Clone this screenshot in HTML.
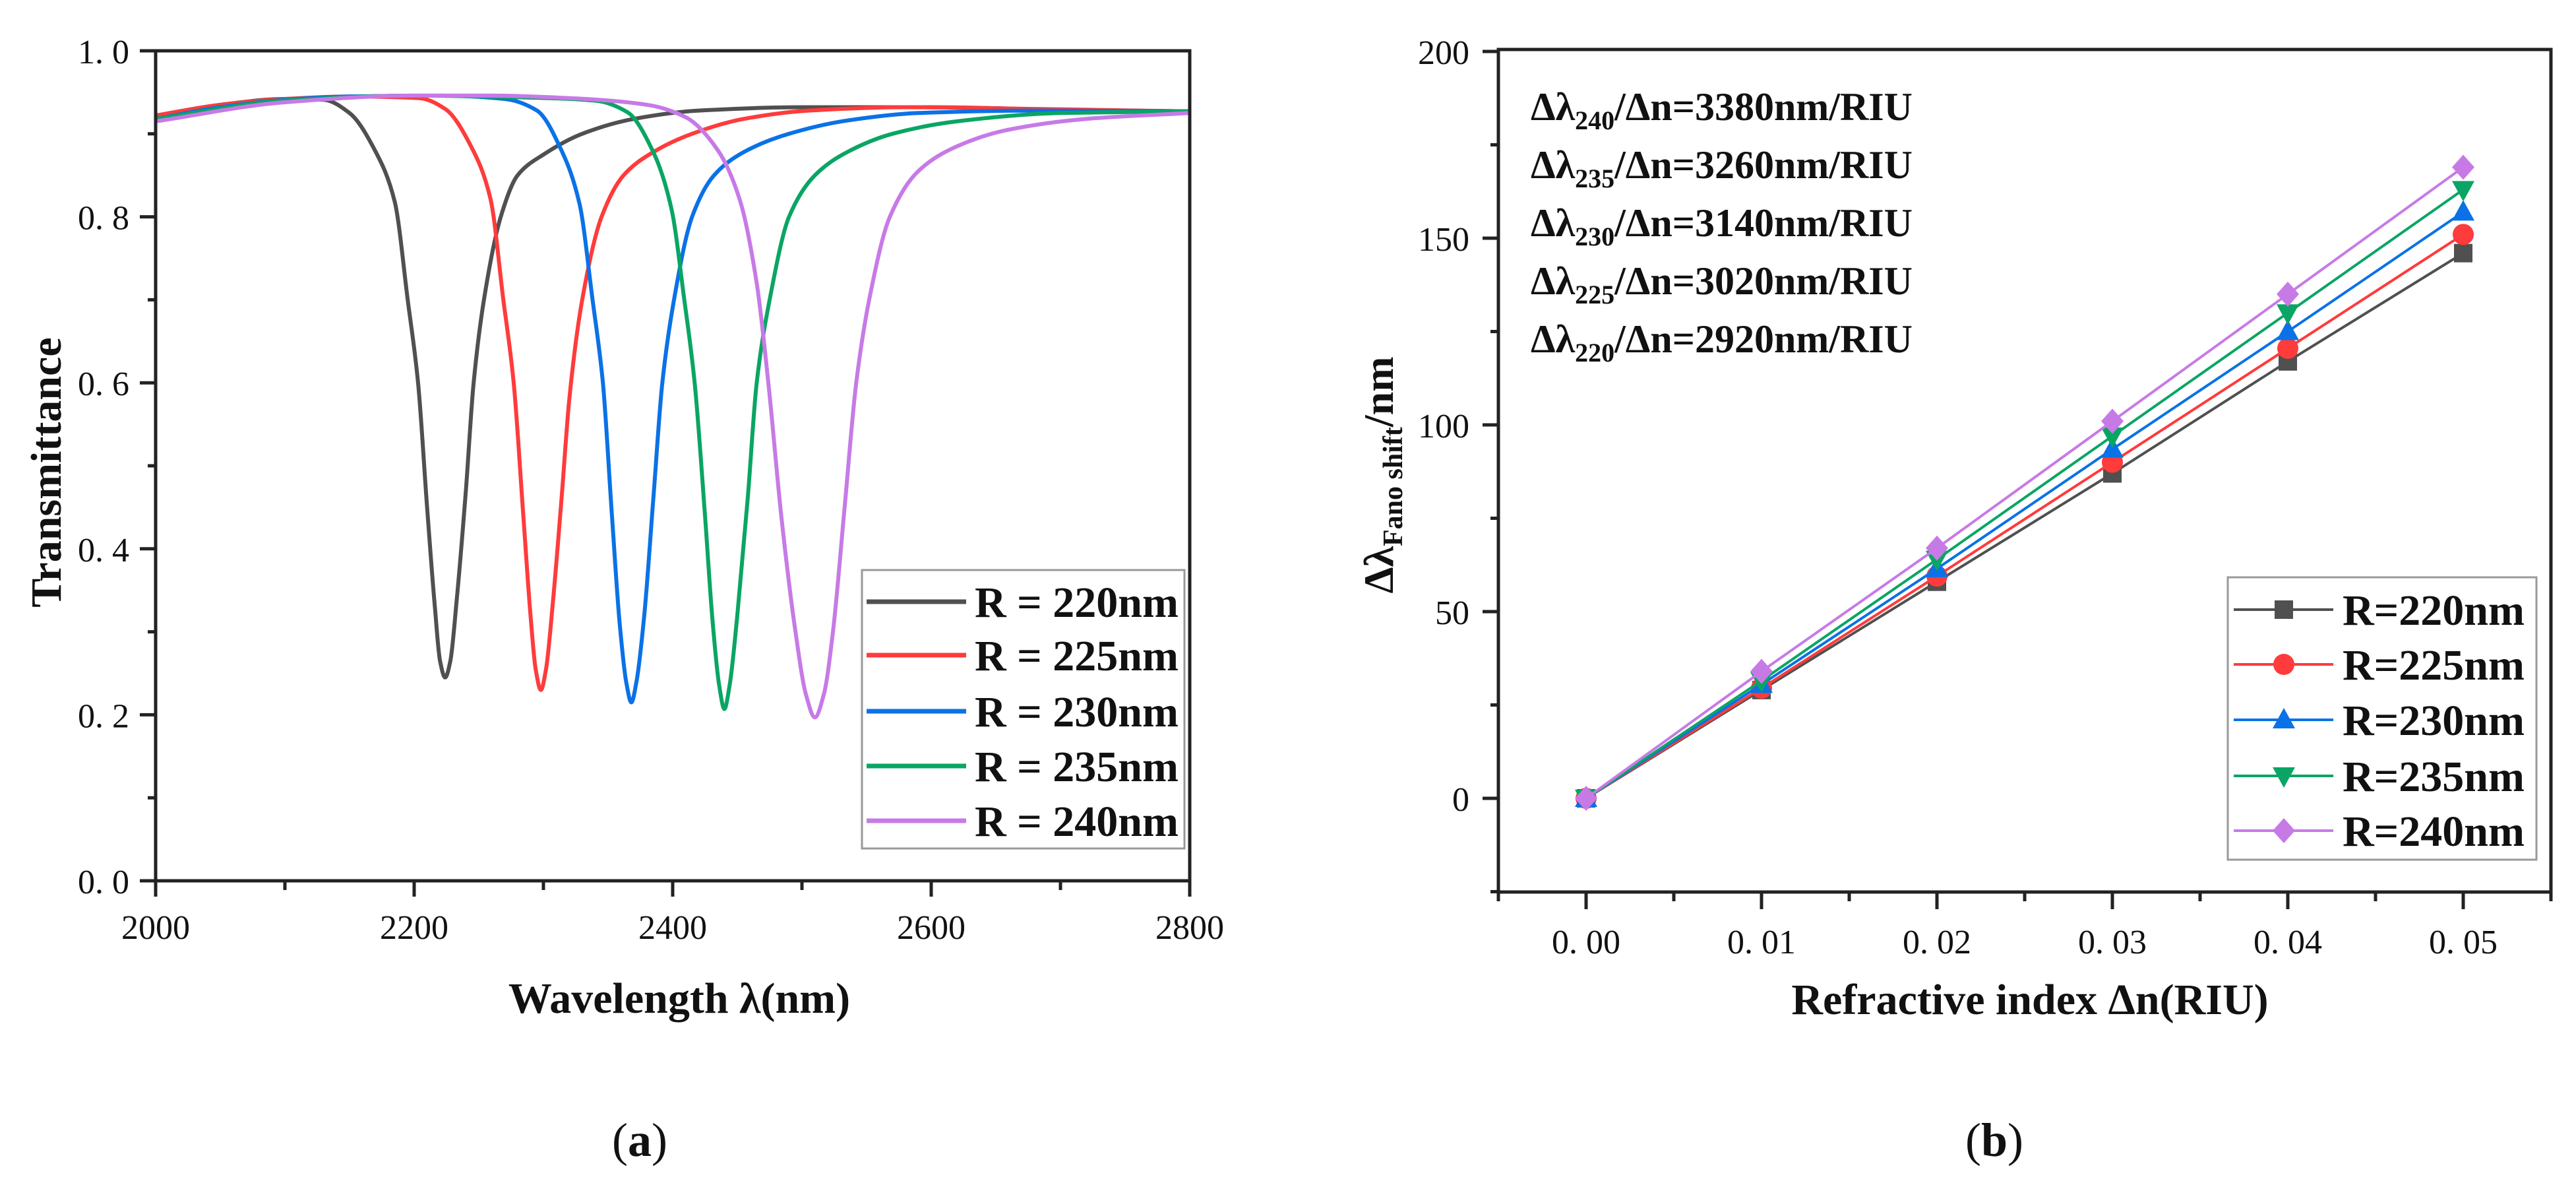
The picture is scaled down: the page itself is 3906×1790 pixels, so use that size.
<!DOCTYPE html>
<html><head><meta charset="utf-8">
<style>
html,body{margin:0;padding:0;background:#fff;}
svg{display:block;}
text{font-family:"Liberation Serif",serif;fill:#111;}
.tick{font-size:52px;}
.bold{font-weight:bold;}
</style></head>
<body>
<svg id="fig" width="3906" height="1790" viewBox="0 0 3906 1790" xmlns="http://www.w3.org/2000/svg">
<g id="chartA"></g>
<g id="chartB"></g>
<text x="970" y="1752" font-size="72" text-anchor="middle">(<tspan font-weight="bold">a</tspan>)</text>
<text x="3024" y="1752" font-size="72" text-anchor="middle">(<tspan font-weight="bold">b</tspan>)</text>
</svg>
<script>
// ---------- Chart A data ----------
const aNames = ["R = 220nm","R = 225nm","R = 230nm","R = 235nm","R = 240nm"];
const aColors = ["#505050","#ff3b3b","#0a72e6","#0aa564","#c77ae6"];
const aX220 = [2000,2050,2100,2130,2150,2170,2185,2195,2203,2210,2216,2220,2224,2228,2233,2240,2246,2254,2267,2280,2300,2330,2370,2420,2500,2600,2700,2800];
const aY220 = [0.922,0.935,0.942,0.941,0.925,0.879,0.818,0.70,0.60,0.45,0.33,0.265,0.245,0.265,0.34,0.47,0.60,0.70,0.80,0.85,0.875,0.90,0.918,0.928,0.932,0.932,0.929,0.927];
const aX225 = [2000,2050,2100,2150,2204,2224,2244,2259,2269,2277,2284,2290,2294,2298,2302,2307,2314,2320,2330,2345,2362,2385,2415,2455,2505,2580,2680,2800];
const aY225 = [0.922,0.935,0.942,0.945,0.943,0.93,0.885,0.822,0.70,0.60,0.45,0.32,0.255,0.23,0.255,0.33,0.46,0.58,0.70,0.80,0.85,0.878,0.90,0.918,0.928,0.932,0.930,0.927];
const aX230 = [2000,2050,2100,2150,2220,2270,2295,2314,2328,2338,2346,2353,2359,2364,2368,2372,2378,2385,2392,2401,2415,2432,2455,2490,2535,2590,2680,2800];
const aY230 = [0.918,0.932,0.941,0.945,0.946,0.942,0.928,0.88,0.815,0.70,0.60,0.44,0.31,0.24,0.215,0.24,0.32,0.46,0.60,0.70,0.80,0.85,0.878,0.90,0.916,0.925,0.928,0.927];
const aX235 = [2000,2100,2200,2280,2340,2365,2385,2399,2409,2417,2425,2431,2436,2440,2444,2450,2458,2465,2475,2490,2510,2535,2570,2620,2700,2800];
const aY235 = [0.918,0.94,0.946,0.944,0.94,0.926,0.878,0.81,0.70,0.60,0.44,0.31,0.235,0.207,0.235,0.32,0.46,0.60,0.70,0.80,0.85,0.878,0.90,0.915,0.925,0.927];
const aX240 = [2000,2100,2200,2260,2320,2380,2410,2435,2452,2465,2474,2484,2495,2503,2510,2517,2524,2533,2542,2552,2568,2590,2620,2660,2720,2800];
const aY240 = [0.915,0.938,0.946,0.946,0.943,0.935,0.92,0.88,0.82,0.72,0.60,0.44,0.30,0.225,0.197,0.225,0.30,0.45,0.60,0.70,0.80,0.855,0.885,0.905,0.918,0.925];
const aXTicks = [2000,2200,2400,2600,2800];
const aYTicks = [0.0,0.2,0.4,0.6,0.8,1.0];
const aYTickLabels = ["0. 0","0. 2","0. 4","0. 6","0. 8","1. 0"];

// ---------- Chart B data ----------
const bNames = ["R=220nm","R=225nm","R=230nm","R=235nm","R=240nm"];
const bColors = ["#505050","#ff3b3b","#0a72e6","#0aa564","#c77ae6"];
const bMarkers = ["square","circle","triangle","invtriangle","diamond"];
const bX = [0,0.01,0.02,0.03,0.04,0.05];
const bY220 = [0,29,58,87,117,146];
const bY225 = [0,29.5,59.5,90,120.5,151];
const bY230 = [0,30.5,61.5,93.5,125,157];
const bY235 = [0,31.5,64,97,130,163];
const bY240 = [0,34,67,101,135,169];
const bXTickLabels = ["0. 00","0. 01","0. 02","0. 03","0. 04","0. 05"];
const bYTicks = [0,50,100,150,200];
const bNotes = [["240","3380"],["235","3260"],["230","3140"],["225","3020"],["220","2920"]];

const NS = "http://www.w3.org/2000/svg";
function mk(parent, tag, attrs){
  const e = document.createElementNS(NS, tag);
  for (const k in attrs) e.setAttribute(k, attrs[k]);
  parent.appendChild(e);
  return e;
}
// monotone cubic (Fritsch-Carlson) in screen coords, x increasing
function monoPath(pts){
  const n = pts.length;
  const dx=[], m=[];
  for (let i=0;i<n-1;i++){ dx[i]=pts[i+1][0]-pts[i][0]; m[i]=(pts[i+1][1]-pts[i][1])/dx[i]; }
  const t=[m[0]];
  for (let i=1;i<n-1;i++){
    if (m[i-1]*m[i]<=0) t[i]=0;
    else { const w1=2*dx[i]+dx[i-1], w2=dx[i]+2*dx[i-1]; t[i]=(w1+w2)/(w1/m[i-1]+w2/m[i]); }
  }
  t[n-1]=m[n-2];
  let d = "M"+pts[0][0].toFixed(1)+","+pts[0][1].toFixed(1);
  for (let i=0;i<n-1;i++){
    const h=dx[i]/3;
    d += " C"+(pts[i][0]+h).toFixed(1)+","+(pts[i][1]+t[i]*h).toFixed(1)+" "+(pts[i+1][0]-h).toFixed(1)+","+(pts[i+1][1]-t[i+1]*h).toFixed(1)+" "+pts[i+1][0].toFixed(1)+","+pts[i+1][1].toFixed(1);
  }
  return d;
}

// ===== Chart A =====
(function(){
  const g = document.getElementById("chartA");
  const L=236,R=1804,T=77,B=1335;
  const xs = v => L + (v-2000)/800*(R-L);
  const ys = v => B - v*(B-T);
  const series = [[aX220,aY220],[aX225,aY225],[aX230,aY230],[aX235,aY235],[aX240,aY240]];
  series.forEach((s,i)=>{
    const pts = s[0].map((x,j)=>[xs(x), ys(s[1][j])]);
    const p = mk(g,"path",{d:monoPath(pts),fill:"none",stroke:aColors[i],"stroke-width":6,"stroke-linejoin":"round"});
    
    
  });
  const fr = mk(g,"rect",{x:L,y:T,width:R-L,height:B-T,fill:"none",stroke:"#222","stroke-width":5});
  
  
  for (let v=2000; v<=2800; v+=100){
    const major = (v%200===0);
    const t = mk(g,"line",{x1:xs(v),x2:xs(v),y1:B,y2:B+(major?24:14),stroke:"#222","stroke-width":5});
    
    
  }
  aXTicks.forEach(v=>{
    const t = mk(g,"text",{x:xs(v),y:B+88,"text-anchor":"middle","class":"tick"});
    t.textContent = v;
    
    
  });
  for (let k=0;k<=10;k++){
    const v=k/10, major=(k%2===0);
    const t = mk(g,"line",{x1:L,x2:L-(major?24:12),y1:ys(v),y2:ys(v),stroke:"#222","stroke-width":5});
    
    
  }
  aYTicks.forEach((v,i)=>{
    const t = mk(g,"text",{x:196,y:ys(v)+19,"text-anchor":"end","class":"tick"});
    t.textContent = aYTickLabels[i];
    
    
  });
  const xt = mk(g,"text",{x:1030,y:1535,"text-anchor":"middle","font-size":66,"class":"bold"});
  xt.textContent = "Wavelength λ(nm)";
  
  
  const yt = mk(g,"text",{x:0,y:0,"text-anchor":"middle","font-size":66,"class":"bold",transform:"translate(92,716) rotate(-90)"});
  yt.textContent = "Transmittance";
  
  
  const lg = mk(g,"g",{});
  
  
  mk(lg,"rect",{x:1307,y:864,width:489,height:422,fill:"#fff",stroke:"#999","stroke-width":3});
  const ly=[912,993,1078,1161,1244];
  aNames.forEach((n,i)=>{
    const e = mk(lg,"g",{});
    
    
    mk(e,"line",{x1:1314,x2:1465,y1:ly[i],y2:ly[i],stroke:aColors[i],"stroke-width":7});
    const t = mk(e,"text",{x:1478,y:ly[i]+23,"font-size":66,"class":"bold"});
    t.textContent = n;
  });
})();

// ===== Chart B =====
(function(){
  const g = document.getElementById("chartB");
  const L=2272,R=3868,T=75,B=1352;
  const xs = v => 2405 + v/0.01*266;
  const ys = v => 1210 - v*5.66;
  function marker(parent,type,x,y,c){
    let e;
    if(type==="square") e=mk(parent,"rect",{x:x-14,y:y-14,width:28,height:28,fill:c});
    else if(type==="circle") e=mk(parent,"circle",{cx:x,cy:y,r:16,fill:c});
    else if(type==="triangle") e=mk(parent,"polygon",{points:`${x},${y-18} ${x+17},${y+13} ${x-17},${y+13}`,fill:c});
    else if(type==="invtriangle") e=mk(parent,"polygon",{points:`${x},${y+18} ${x+17},${y-13} ${x-17},${y-13}`,fill:c});
    else e=mk(parent,"polygon",{points:`${x},${y-19} ${x+17},${y} ${x},${y+19} ${x-17},${y}`,fill:c});
    return e;
  }
  const series=[bY220,bY225,bY230,bY235,bY240];
  series.forEach((ys_,i)=>{
    const sg = mk(g,"g",{});
    
    
    const pts = bX.map((x,j)=>xs(x)+","+ys(ys_[j])).join(" ");
    mk(sg,"polyline",{points:pts,fill:"none",stroke:bColors[i],"stroke-width":4});
    bX.forEach((x,j)=>{
      const m = marker(sg,bMarkers[i],xs(x),ys(ys_[j]),bColors[i]);
      
      
    });
  });
  const fr = mk(g,"rect",{x:L,y:T,width:R-L,height:B-T,fill:"none",stroke:"#222","stroke-width":5});
  
  
  for (let k=-1;k<=11;k++){
    const v=k*0.005, major=(k%2===0);
    const t = mk(g,"line",{x1:xs(v),x2:xs(v),y1:B,y2:B+(major?26:14),stroke:"#222","stroke-width":5});
    
    
  }
  bX.forEach((v,i)=>{
    const t = mk(g,"text",{x:xs(v),y:1445,"text-anchor":"middle","class":"tick"});
    t.textContent = bXTickLabels[i];
    
    
  });
  for (let v=-25; v<=200; v+=25){
    const major=(v%50===0);
    const t = mk(g,"line",{x1:L,x2:L-(major?24:12),y1:ys(v),y2:ys(v),stroke:"#222","stroke-width":5});
    
    
  }
  bYTicks.forEach(v=>{
    const t = mk(g,"text",{x:2228,y:ys(v)+19,"text-anchor":"end","class":"tick"});
    t.textContent = v;
    
    
  });
  const xt = mk(g,"text",{x:3078,y:1537,"text-anchor":"middle","font-size":66,"class":"bold"});
  xt.textContent = "Refractive index Δn(RIU)";
  
  
  const yt = mk(g,"text",{x:0,y:0,"text-anchor":"middle","font-size":64,"class":"bold",transform:"translate(2112,720) rotate(-90)"});
  yt.innerHTML = 'Δλ<tspan font-size="42" dy="14">Fano shift</tspan><tspan dy="-14">/nm</tspan>';
  
  
  const ny=[182,270,358,446,534];
  bNotes.forEach((n,i)=>{
    const t = mk(g,"text",{x:2321,y:ny[i],"font-size":60,"class":"bold"});
    t.innerHTML = 'Δλ<tspan font-size="40" dy="14">'+n[0]+'</tspan><tspan dy="-14">/Δn='+n[1]+'nm/RIU</tspan>';
    
    
  });
  const lg = mk(g,"g",{});
  
  
  mk(lg,"rect",{x:3378,y:875,width:468,height:428,fill:"#fff",stroke:"#999","stroke-width":3});
  const ly=[924,1007,1091,1176,1259];
  bNames.forEach((n,i)=>{
    const e = mk(lg,"g",{});
    
    
    mk(e,"line",{x1:3387,x2:3538,y1:ly[i],y2:ly[i],stroke:bColors[i],"stroke-width":4});
    marker(e,bMarkers[i],3463,ly[i],bColors[i]);
    const t = mk(e,"text",{x:3552,y:ly[i]+23,"font-size":66,"class":"bold"});
    t.textContent = n;
  });
})();
</script>
</body></html>
